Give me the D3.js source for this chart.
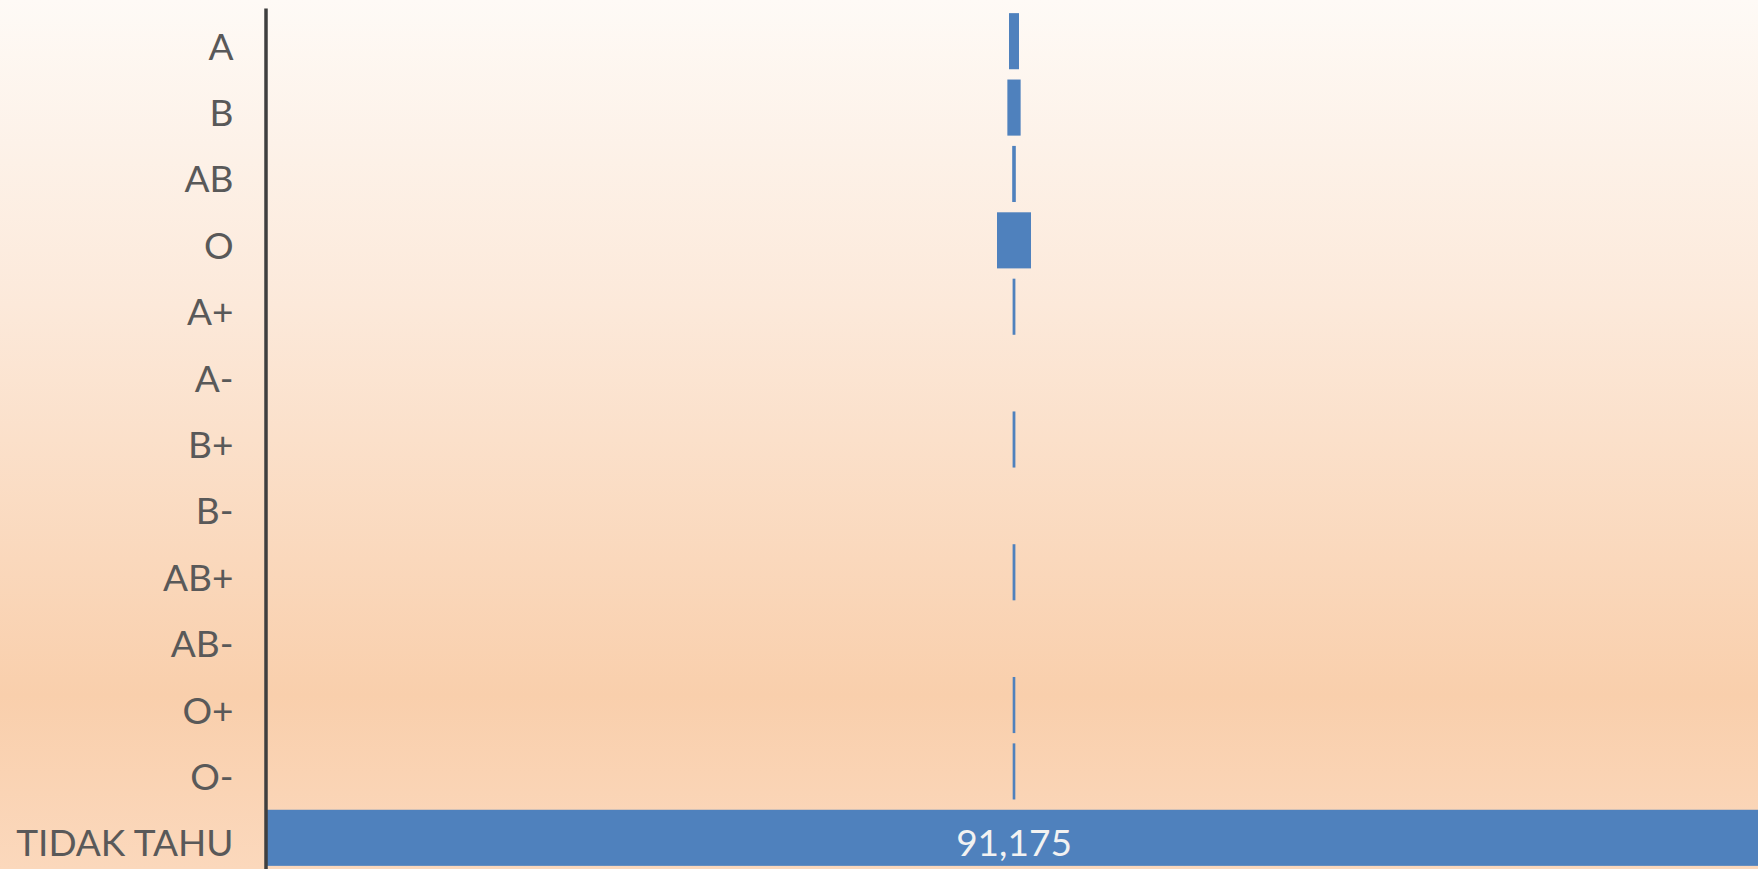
<!DOCTYPE html>
<html>
<head>
<meta charset="utf-8">
<script src="https://cdn.jsdelivr.net/npm/d3@7"></script>
<style>
  html, body { margin: 0; padding: 0; overflow: hidden; }
  #diagram svg { display: block; }
</style>
</head>
<body>
<div id="diagram"></div>
<script>
// data
const categories = ['A', 'B', 'AB', 'O', 'A+', 'A-', 'B+', 'B-', 'AB+', 'AB-', 'O+', 'O-', 'TIDAK TAHU'];
const values = [610, 810, 220, 2075, 170, 0, 170, 0, 170, 0, 160, 160, 91175];
const labelled = ['TIDAK TAHU'];

!(function () {
  'use strict';
  // - - - - - - - - - -
  // declaration
  let
    canvas = undefined,
    svg = undefined,
    xScale = undefined,
    yScale = undefined,
    maxValue = undefined,

    setCanvas = undefined,
    setBackground = undefined,
    setScales = undefined,
    setBars = undefined,
    setYAxis = undefined,
    setLabels = undefined;

  canvas = {
    width: 1758,
    height: 869,
    padding: {
      top: 8,
      right: -3,
      bottom: -2,
      left: 267
    },
    font: 'Lato, "Open Sans", sans-serif',
    fontSize: 37
  };

  // methods
  setCanvas = function (contextSelector) {
    svg = d3.select(contextSelector)
      .append('svg')
      .attr('width', canvas.width)
      .attr('height', canvas.height)
      .attr('viewBox', '0 0 ' + canvas.width + ' ' + canvas.height);
  };

  setBackground = function () {
    let grad = svg.append('defs')
      .append('linearGradient')
      .attr('id', 'bg')
      .attr('x1', 0).attr('y1', 0)
      .attr('x2', 0).attr('y2', 1);

    [[0, '#fefaf6'], [0.35, '#fce9da'], [0.8, '#f9cfac'], [1, '#fbd8bc']].forEach(function (s) {
      grad.append('stop').attr('offset', s[0]).attr('stop-color', s[1]);
    });

    svg.append('rect')
      .attr('width', canvas.width)
      .attr('height', canvas.height)
      .attr('fill', 'url(#bg)');
  };

  setScales = function () {
    maxValue = d3.max(values);

    // funnel: every bar is centred on zero
    xScale = d3.scaleLinear()
      .domain([-maxValue / 2, maxValue / 2])
      .range([canvas.padding.left, canvas.width - canvas.padding.right]);

    yScale = d3.scaleBand()
      .domain(categories)
      .range([canvas.padding.top, canvas.height - canvas.padding.bottom])
      .paddingInner(0.155)
      .paddingOuter(0.0775);
  };

  setBars = function () {
    svg.append('g')
      .selectAll('rect')
      .data(categories)
      .join('rect')
      .attr('x', function (d, i) { return xScale(-values[i] / 2); })
      .attr('y', function (d) { return yScale(d); })
      .attr('width', function (d, i) { return xScale(values[i] / 2) - xScale(-values[i] / 2); })
      .attr('height', yScale.bandwidth())
      .attr('fill', '#4f81bd');
  };

  setYAxis = function () {
    let axis = svg.append('g')
      .attr('transform', 'translate(' + (canvas.padding.left - 1.5) + ', 0)')
      .call(d3.axisLeft(yScale).tickSize(0).tickSizeOuter(0).tickPadding(32));

    axis.select('.domain')
      .attr('stroke', '#3f3f3f')
      .attr('stroke-width', 3.5);

    axis.selectAll('text')
      .attr('dy', '0.5em')
      .attr('fill', '#595959')
      .style('font-family', canvas.font)
      .style('font-size', canvas.fontSize + 'px');
  };

  setLabels = function () {
    svg.append('g')
      .selectAll('text')
      .data(categories.filter(function (c) { return labelled.indexOf(c) >= 0; }))
      .join('text')
      .attr('x', xScale(0))
      .attr('y', function (d) { return yScale(d) + yScale.bandwidth() / 2; })
      .attr('dy', '0.5em')
      .attr('text-anchor', 'middle')
      .attr('fill', '#f2f2f2')
      .style('font-family', canvas.font)
      .style('font-size', canvas.fontSize + 'px')
      .text(function (d) { return d3.format(',')(values[categories.indexOf(d)]); });
  };

  // control
  setCanvas('#diagram');
  setBackground();
  setScales();
  setBars();
  setYAxis();
  setLabels();
  // - - - - - - - - - -
}());
</script>
</body>
</html>
